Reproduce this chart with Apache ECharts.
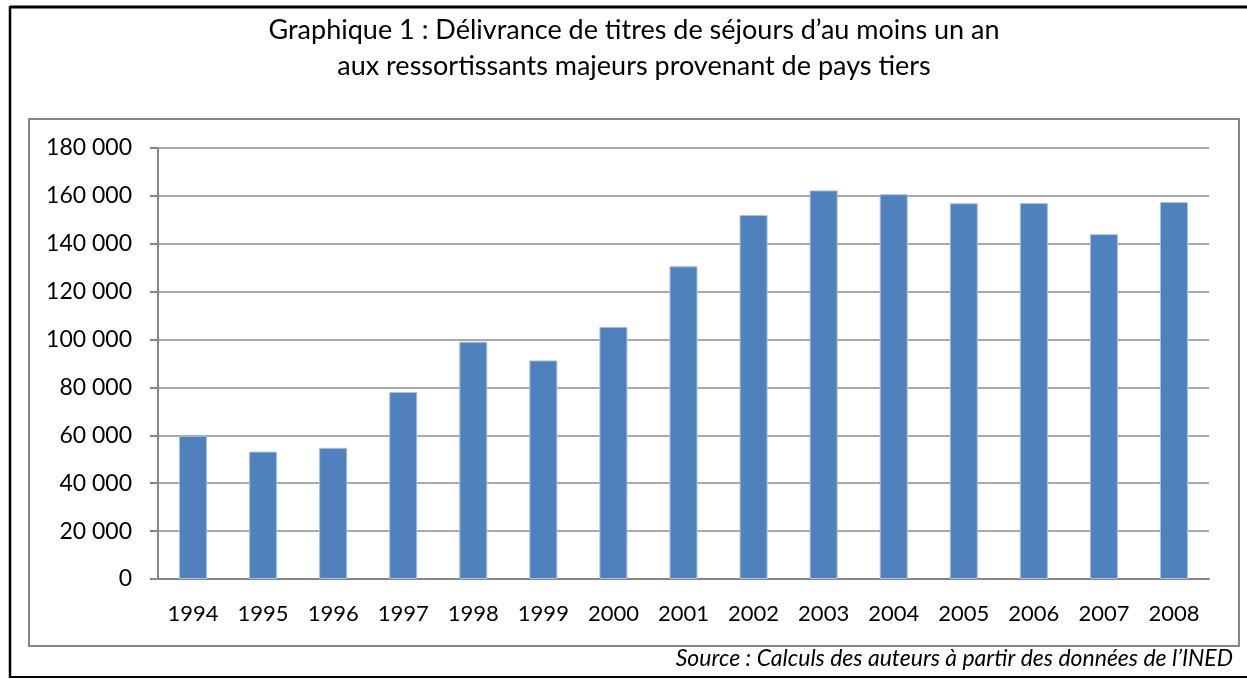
<!DOCTYPE html>
<html>
<head>
<meta charset="utf-8">
<script src="https://cdn.jsdelivr.net/npm/echarts@6/dist/echarts.min.js"></script>
<style>
  html, body { margin: 0; padding: 0; background: #fff; }
  #chart { width: 1247px; height: 679px; }
</style>
</head>
<body>
<div id="chart"></div>
<script>
const years = ['1994', '1995', '1996', '1997', '1998', '1999', '2000', '2001',
  '2002', '2003', '2004', '2005', '2006', '2007', '2008'];
const titres = [59800, 53200, 54800, 78100, 99100, 91300, 105300, 130600,
  152000, 162300, 160700, 156900, 157000, 144000, 157400];
const yTicks = { min: 0, max: 180000, interval: 20000 };

const FONT = 'Lato, "Open Sans", sans-serif';

// "180 000" style thousands
const fmt = v => String(v).replace(/\B(?=(\d{3})+(?!\d))/g, ' ');

const chart = echarts.init(document.getElementById('chart'));

const option = {
  animation: false,
  backgroundColor: '#fff',
  textStyle: { fontFamily: FONT },
  title: {
    text: 'Graphique 1 : Délivrance de titres de séjours d’au moins un an\naux ressortissants majeurs provenant de pays tiers',
    left: 629,
    textAlign: 'center',
    top: 7,
    textStyle: { fontFamily: FONT, fontSize: 27, fontWeight: 'normal', color: '#000', lineHeight: 36 }
  },
  graphic: [
    // outer frame (left, top, bottom only)
    { type: 'line', shape: { x1: 10, y1: 7, x2: 1247, y2: 7 }, style: { stroke: '#000', lineWidth: 3 } },
    { type: 'line', shape: { x1: 10, y1: 6, x2: 10, y2: 678 }, style: { stroke: '#000', lineWidth: 2.5 } },
    { type: 'line', shape: { x1: 10, y1: 677, x2: 1247, y2: 677 }, style: { stroke: '#000', lineWidth: 2 } },
    // chart area box
    { type: 'rect', shape: { x: 29, y: 119, width: 1210, height: 527 },
      style: { fill: 'none', stroke: '#868686', lineWidth: 2 }, z: -1 },
    { type: 'text', right: 14, top: 647,
      style: { text: 'Source : Calculs des auteurs à partir des données de l’INED',
        font: 'italic 23px ' + FONT, fill: '#000' } }
  ],
  grid: { left: 158, right: 38, top: 148, bottom: 100, containLabel: false },
  xAxis: {
    type: 'category',
    data: years,
    axisLine: { lineStyle: { color: '#868686', width: 2 } },
    axisTick: { alignWithLabel: false, length: 7, lineStyle: { color: '#868686', width: 2 } },
    axisLabel: { color: '#000', fontSize: 22, fontFamily: FONT, margin: 24, interval: 0 }
  },
  yAxis: {
    type: 'value',
    min: yTicks.min,
    max: yTicks.max,
    interval: yTicks.interval,
    axisLine: { show: true, lineStyle: { color: '#868686', width: 2 } },
    axisTick: { show: true, inside: false, length: 8, lineStyle: { color: '#868686', width: 2 } },
    splitLine: { lineStyle: { color: '#8c8c8c', width: 1.5 } },
    axisLabel: { color: '#000', fontSize: 23, fontFamily: FONT, margin: 26, formatter: fmt }
  },
  series: [{
    type: 'bar',
    data: titres,
    barWidth: '40%',
    itemStyle: { color: '#4f81bd', borderColor: '#a9c1df', borderWidth: 1 }
  }]
};

chart.setOption(option);
</script>
</body>
</html>
